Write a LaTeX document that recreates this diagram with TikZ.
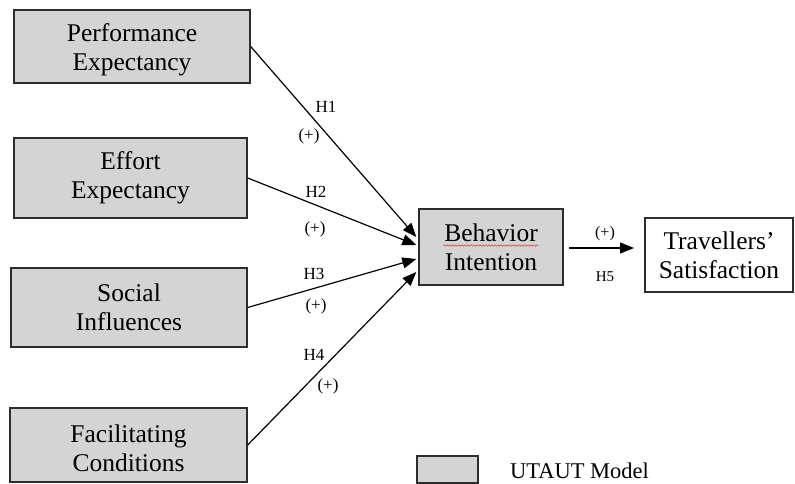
\documentclass[tikz,border=0pt]{standalone}
\usepackage{fontspec}
\setmainfont{Liberation Serif}
\usetikzlibrary{arrows.meta,calc,decorations.pathmorphing}
\definecolor{boxfill}{RGB}{212,212,212}
\definecolor{boxedge}{RGB}{45,45,45}
\definecolor{spellred}{RGB}{225,60,60}
\newcommand{\toppad}{\rule{0pt}{24pt}}
\begin{document}
\begin{tikzpicture}[x=1pt,y=-1pt,
  construct/.style={draw=boxedge, line width=1.4pt, fill=boxfill, align=center,
    font=\fontsize{25.5}{29}\selectfont, inner sep=0pt},
  outcome/.style={construct, fill=white},
  link/.style={draw=black, line width=1.2pt, -{Triangle[length=14pt,width=11pt]}},
  hyp/.style={font=\fontsize{17}{19}\selectfont, inner sep=0pt},
  squiggle/.style={draw=spellred, line width=0.5pt,
    decorate, decoration={snake, amplitude=0.8pt, segment length=3pt}},
]
\useasboundingbox (0,0) rectangle (795,484);

% UTAUT constructs
\node[construct, minimum width=236pt, minimum height=73pt] (pe) at (132,46.5)
  {\toppad Performance\\Expectancy};
\node[construct, minimum width=233pt, minimum height=80pt] (ee) at (130.5,178)
  {Effort\\Expectancy};
\node[construct, minimum width=236pt, minimum height=79pt] (si) at (129,307.5)
  {Social\\Influences};
\node[construct, minimum width=237pt, minimum height=74pt] (fc) at (128.5,445)
  {\toppad Facilitating\\Conditions};
\node[construct, minimum width=144pt, minimum height=76pt] (bi) at (491,247)
  {Behavior\\Intention};

% outcome construct
\node[outcome, minimum width=148pt, minimum height=74pt] (ts) at (719,255)
  {Travellers’\\Satisfaction};

% wavy underline below "Behavior"
\coordinate (sqa) at (443,245.5);
\coordinate (sqb) at (538,245.5);
\draw[squiggle] (sqa) -- (sqb);

% arrow end points on the left side of Behavior Intention
\coordinate (t1) at ($(bi.west)+(-2,-10)$);
\coordinate (t2) at ($(bi.west)+(-2,-2)$);
\coordinate (t3) at ($(bi.west)+(-2,12)$);
\coordinate (t4) at ($(bi.west)+(-2,25)$);

\draw[link] (pe.east) -- (t1);
\draw[link] (ee.east) -- (t2);
\draw[link] (si.east) -- (t3);
\draw[link] (fc.east) -- (t4);

% H5 path
\coordinate (h5s) at (569,248);
\coordinate (h5e) at (634,248);
\draw[link] (h5s) -- (h5e);

% hypothesis labels
\node[hyp] (h1) at (326,107) {H1};
\node[hyp] (p1) at (309,136) {(+)};
\node[hyp] (h2) at (316,192) {H2};
\node[hyp] (p2) at (315,229) {(+)};
\node[hyp] (h3) at (314,274) {H3};
\node[hyp] (p3) at (316,306) {(+)};
\node[hyp] (h4) at (314,355) {H4};
\node[hyp] (p4) at (328,386) {(+)};
\node[hyp, font=\fontsize{16}{18}\selectfont] (p5) at (605,234) {(+)};
\node[hyp, font=\fontsize{15}{17}\selectfont] (h5) at (605,277) {H5};

% legend
\node[construct, minimum width=61pt, minimum height=27pt] (key) at (447.5,469.5) {};
\node[anchor=base west, inner sep=0pt, font=\fontsize{22.5}{26}\selectfont] (keytext)
  at (510,478) {UTAUT Model};
\end{tikzpicture}
\end{document}
